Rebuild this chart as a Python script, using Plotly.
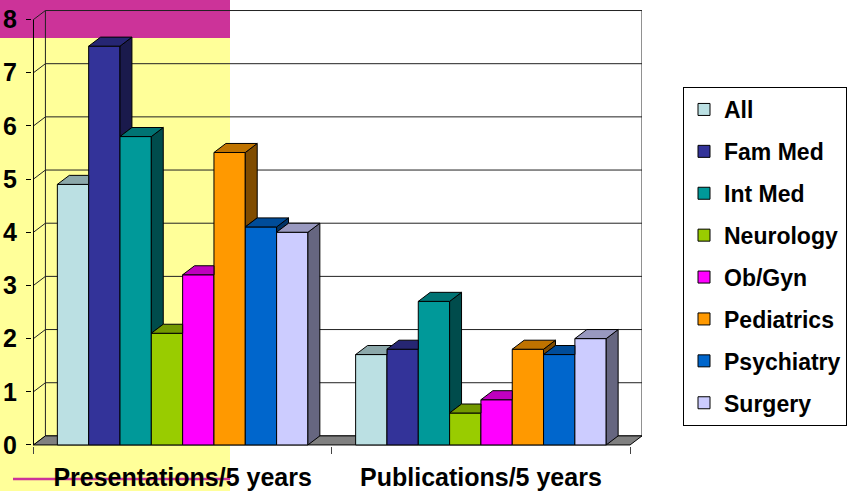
import plotly.graph_objects as go

# ---------------- data ----------------
categories = ["Presentations/5 years", "Publications/5 years"]
series_names = ["All", "Fam Med", "Int Med", "Neurology", "Ob/Gyn",
                "Pediatrics", "Psychiatry", "Surgery"]
all_vals = [4.9, 1.7]
fam_med = [7.5, 1.8]
int_med = [5.8, 2.7]
neurology = [2.1, 0.6]
ob_gyn = [3.2, 0.85]
pediatrics = [5.5, 1.8]
psychiatry = [4.1, 1.7]
surgery = [4.0, 2.0]
y_ticks = [0, 1, 2, 3, 4, 5, 6, 7, 8]

series_values = [all_vals, fam_med, int_med, neurology, ob_gyn,
                 pediatrics, psychiatry, surgery]
series_colors = ["#BBE0E3", "#333399", "#009999", "#99CC00", "#FF00FF",
                 "#FF9900", "#0066CC", "#CCCCFF"]

# ---------------- geometry / style ----------------
W, H = 851, 491
PLOT_L, PLOT_R, PLOT_T, PLOT_B = 32, 642, 10, 446
DX, DY = 0.04, 0.17          # 3-D depth offset in data units
BAR_W = 0.105
GROUP_HALF = 0.42
X_RANGE = [-0.505, 1.5 + DX]
Y_RANGE = [-0.02, 8 + DY + 0.01]
FONT = "Liberation Sans, Arial, sans-serif"


def shade(hex_color, f):
    h = hex_color.lstrip("#")
    r, g, b = (int(h[k:k + 2], 16) for k in (0, 2, 4))
    return "rgb(%d,%d,%d)" % (round(r * f), round(g * f), round(b * f))


def px_x(px):
    return (px - PLOT_L) / (PLOT_R - PLOT_L)


def px_y(py):
    return (PLOT_B - py) / (PLOT_B - PLOT_T)


fig = go.Figure()

# front faces (real bars)
for i, (name, vals, col) in enumerate(zip(series_names, series_values, series_colors)):
    fig.add_trace(go.Bar(
        x=[0, 1], y=vals, name=name, legendgroup=name,
        offset=-GROUP_HALF + i * BAR_W, width=BAR_W,
        marker=dict(color=col, line=dict(color="black", width=1)),
        hoverinfo="skip",
    ))

# side and top faces (3-D look)
n = len(series_names)
for j in range(len(categories)):
    for i in range(n):
        v = series_values[i][j]
        vn = series_values[i + 1][j] if i < n - 1 else 0
        col = series_colors[i]
        x0 = j - GROUP_HALF + i * BAR_W
        x1 = x0 + BAR_W
        # side face, visible part above the neighbour
        if vn < v:
            xs = [x1, x1 + DX, x1 + DX, x1, x1]
            ys = [vn, vn + DY, v + DY, v, vn]
            fig.add_trace(go.Scatter(
                x=xs, y=ys, mode="lines", fill="toself",
                fillcolor=shade(col, 0.5),
                line=dict(color="black", width=1),
                showlegend=False, hoverinfo="skip"))
        # top face, clipped by a taller neighbour
        h = min(max(vn - v, 0), DY)
        if h <= 0:
            xs = [x0, x1, x1 + DX, x0 + DX, x0]
            ys = [v, v, v + DY, v + DY, v]
        elif h >= DY:
            xs = [x0, x1, x1, x0 + DX, x0]
            ys = [v, v, v + DY, v + DY, v]
        else:
            xs = [x0, x1, x1, x1 + DX * h / DY, x1 + DX, x0 + DX, x0]
            ys = [v, v, v + h, v + h, v + DY, v + DY, v]
        fig.add_trace(go.Scatter(
            x=xs, y=ys, mode="lines", fill="toself",
            fillcolor=shade(col, 0.75),
            line=dict(color="black", width=1),
            showlegend=False, hoverinfo="skip"))

shapes = []
# background decorations (paper)
shapes.append(dict(type="rect", xref="paper", yref="paper",
                   x0=px_x(0), x1=px_x(230), y0=px_y(H), y1=px_y(38),
                   fillcolor="#FFFF99", line=dict(width=0), layer="below"))
shapes.append(dict(type="rect", xref="paper", yref="paper",
                   x0=px_x(0), x1=px_x(230), y0=px_y(38), y1=px_y(0),
                   fillcolor="#CC3399", line=dict(width=0), layer="below"))
shapes.append(dict(type="line", xref="paper", yref="paper",
                   x0=px_x(13), x1=px_x(230), y0=px_y(479), y1=px_y(479),
                   line=dict(color="#CC3399", width=2.5), layer="below"))
# back wall gridlines
for t in y_ticks:
    shapes.append(dict(type="line", xref="x", yref="y",
                       x0=-0.5 + DX, x1=1.5 + DX, y0=t + DY, y1=t + DY,
                       line=dict(color="#222222", width=1), layer="below"))
    shapes.append(dict(type="line", xref="x", yref="y",
                       x0=-0.5, x1=-0.5 + DX, y0=t, y1=t + DY,
                       line=dict(color="#222222", width=1), layer="below"))
# wall edges
for xe in (-0.5 + DX, 1.5 + DX):
    shapes.append(dict(type="line", xref="x", yref="y",
                       x0=xe, x1=xe, y0=DY, y1=y_ticks[-1] + DY,
                       line=dict(color="#222222", width=1), layer="below"))
# floor
shapes.append(dict(type="path", xref="x", yref="y",
                   path="M -0.5,0 L 1.5,0 L %f,%f L %f,%f Z" % (1.5 + DX, DY, -0.5 + DX, DY),
                   fillcolor="#808080", line=dict(color="black", width=1), layer="below"))
# front vertical axis
shapes.append(dict(type="line", xref="x", yref="y",
                   x0=-0.5, x1=-0.5, y0=0, y1=y_ticks[-1],
                   line=dict(color="black", width=1), layer="below"))

fig.update_layout(
    width=W, height=H,
    margin=dict(l=PLOT_L, r=W - PLOT_R, t=PLOT_T, b=H - PLOT_B, pad=0,
                autoexpand=False),
    paper_bgcolor="white", plot_bgcolor="rgba(0,0,0,0)",
    barmode="overlay",
    shapes=shapes,
    font=dict(family=FONT, color="black"),
    showlegend=True,
    legend=dict(
        x=px_x(683), xanchor="left", y=px_y(87), yanchor="top",
        bgcolor="white", bordercolor="black", borderwidth=1,
        font=dict(family=FONT, size=23, color="black", weight="bold"),
        tracegroupgap=9, traceorder="grouped",
    ),
    xaxis=dict(
        range=X_RANGE, tickmode="array", tickvals=[0, 1], ticktext=categories,
        ticks="", showgrid=False, zeroline=False, showline=False,
        tickfont=dict(family=FONT, size=25, color="black", weight="bold"),
        ticklabelstandoff=14,
        minor=dict(tickmode="array", tickvals=[-0.5, 0.5, 1.5], ticks="outside",
                   ticklen=7, tickcolor="#444444", tickwidth=1, showgrid=False),
        fixedrange=True,
    ),
    yaxis=dict(
        range=Y_RANGE, tickmode="array", tickvals=y_ticks,
        ticks="outside", ticklen=5, tickcolor="black", tickwidth=1,
        showgrid=False, zeroline=False, showline=False,
        tickfont=dict(family=FONT, size=25, color="black", weight="bold"),
        ticklabelstandoff=4,
        fixedrange=True,
    ),
)

fig.write_html("out.html")
